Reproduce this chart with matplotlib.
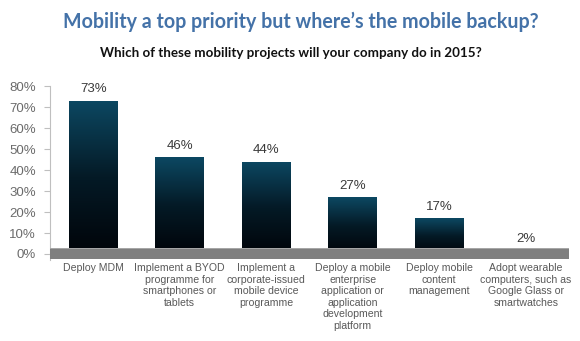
import numpy as np
import matplotlib.pyplot as plt
from matplotlib.colors import LinearSegmentedColormap
from matplotlib.patches import Rectangle

categories = [
    "Deploy MDM",
    "Implement a BYOD\nprogramme for\nsmartphones or\ntablets",
    "Implement a\ncorporate-issued\nmobile device\nprogramme",
    "Deploy a mobile\nenterprise\napplication or\napplication\ndevelopment\nplatform",
    "Deploy mobile\ncontent\nmanagement",
    "Adopt wearable\ncomputers, such as\nGoogle Glass or\nsmartwatches",
]
values = [73, 46, 44, 27, 17, 2]
yticks = [0, 10, 20, 30, 40, 50, 60, 70, 80]

title = "Mobility a top priority but where\u2019s the mobile backup?"
subtitle = "Which of these mobility projects will your company do in 2015?"

W, H = 580, 341
fig = plt.figure(figsize=(W / 100, H / 100), dpi=100)
fig.patch.set_facecolor("white")

# axes placed in pixel terms: 80% at y=86, 0% at y=254
y_lo, y_hi = -3, 80
px_per = (254 - 86) / 80
bottom_px = 254 + 3 * px_per
ax = fig.add_axes([50 / W, 1 - bottom_px / H, (569 - 50) / W, (bottom_px - 86) / H])
ax.set_xlim(-0.5, len(values) - 0.5)
ax.set_ylim(y_lo, y_hi)

cmap = LinearSegmentedColormap.from_list("bar", ["#010409", "#041a26", "#0c4862"])
grad = np.linspace(0, 1, 256).reshape(-1, 1)

x = np.arange(len(values))
bars = ax.bar(x, values, width=0.565, color="none", edgecolor="none", zorder=2)
for b in bars:
    x0, w, h = b.get_x(), b.get_width(), b.get_height()
    im = ax.imshow(grad, cmap=cmap, origin="lower", aspect="auto",
                   extent=[x0, x0 + w, 0, h], zorder=2)
    im.set_clip_path(b)

# grey floor
ax.add_patch(Rectangle((-0.5, -2.2), len(values), 5.1, facecolor="#7f7f7f",
                       edgecolor="none", zorder=3))
ax.add_patch(Rectangle((-0.5, 2.4), len(values), 0.5, facecolor="#a6a6a6",
                       edgecolor="none", zorder=3))

for xi, v in zip(x, values):
    ax.text(xi, v + 2.5, f"{v}%", ha="center", va="bottom", fontsize=9.5,
            color="#3a3a3a", family="Liberation Sans", zorder=4)

ax.set_yticks(yticks)
ax.set_yticklabels([f"{t}%" for t in yticks], family="Liberation Sans",
                   fontsize=9.5, color="#6b6b6b")
ax.tick_params(axis="y", length=4, width=0.8, color="#bfbfbf", pad=6)
ax.set_xticks(x)
ax.set_xticklabels(categories, family="Liberation Sans", fontsize=7.6,
                   color="#595959", linespacing=1.2, va="top")
ax.tick_params(axis="x", length=0, pad=2)
for s in ["top", "right", "bottom"]:
    ax.spines[s].set_visible(False)
ax.spines["left"].set_color("#bfbfbf")
ax.spines["left"].set_linewidth(0.8)
ax.set_facecolor("white")

fig.text(301 / W, 1 - 22 / H, title, ha="center", va="center", fontsize=14.1,
         color="#4472a8", family="Lato", fontweight="bold")
fig.text(291 / W, 1 - 53 / H, subtitle, ha="center", va="center", fontsize=9.6,
         color="#111111", family="Lato", fontweight="bold")

fig.savefig("out.png", dpi=100, facecolor="white")
